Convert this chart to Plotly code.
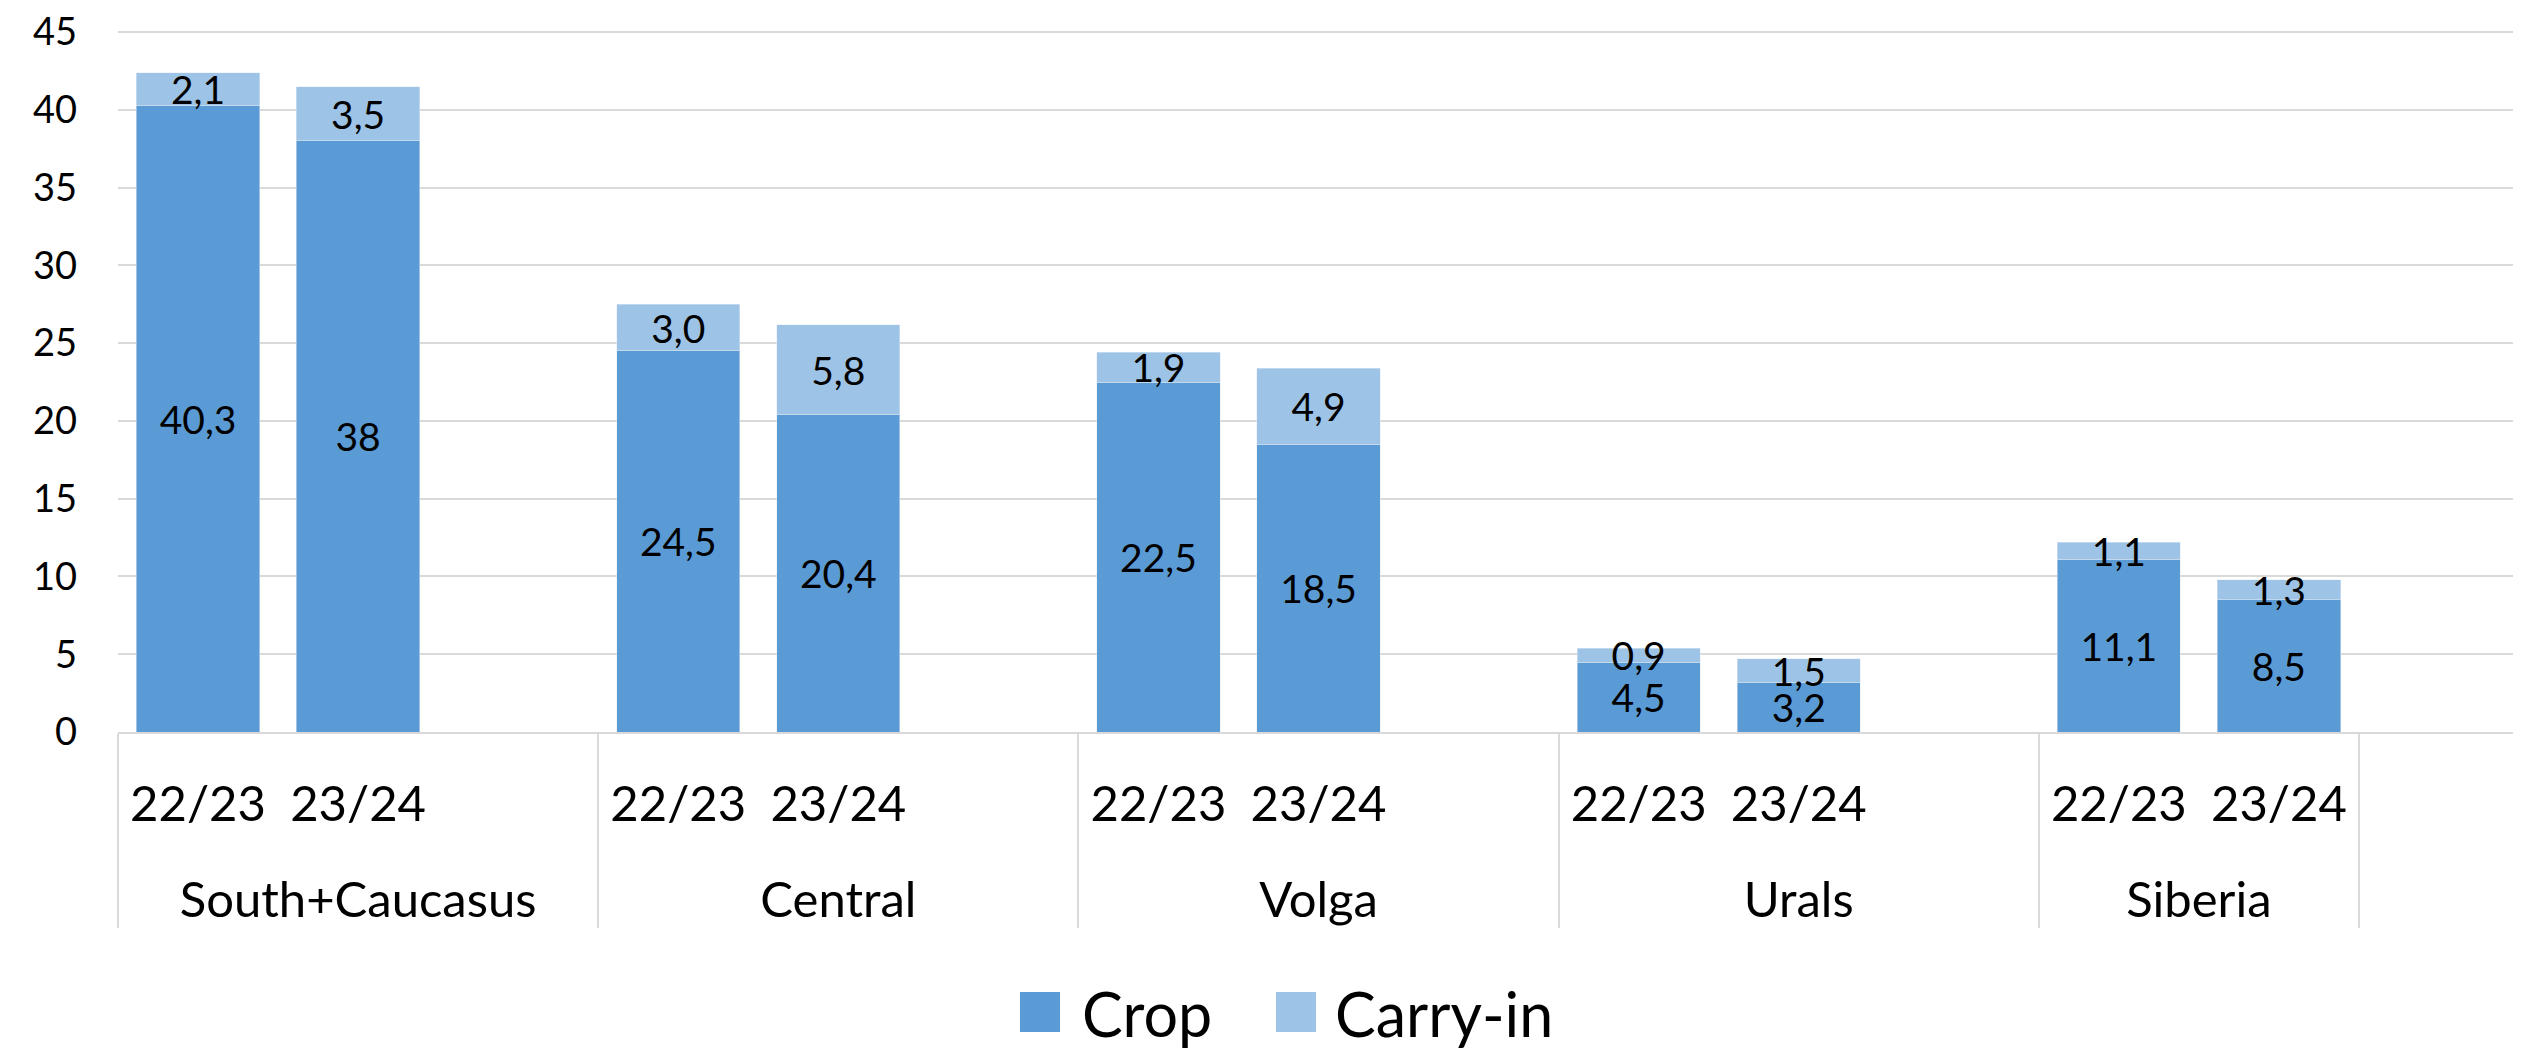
import plotly.graph_objects as go

# values (mln t)
regions = ["South+Caucasus", "Central", "Volga", "Urals", "Siberia"]
seasons = ["22/23", "23/24"]
crop = [40.3, 38.0, 24.5, 20.4, 22.5, 18.5, 4.5, 3.2, 11.1, 8.5]
carry_in = [2.1, 3.5, 3.0, 5.8, 1.9, 4.9, 0.9, 1.5, 1.1, 1.3]
crop_text = ["40,3", "38", "24,5", "20,4", "22,5", "18,5", "4,5", "3,2", "11,1", "8,5"]
carry_text = ["2,1", "3,5", "3,0", "5,8", "1,9", "4,9", "0,9", "1,5", "1,1", "1,3"]
y_ticks = [0, 5, 10, 15, 20, 25, 30, 35, 40, 45]

CROP_COL = "#5B9BD5"
CARRY_COL = "#9DC3E6"
GRID = "#D9D9D9"
FONT = "Lato"

W, H = 2521, 1052
OFF = 8  # the page body adds an 8px margin, so pull everything back by that much
# plot area wanted at x 118..2519, y 32..732 on the screen
ML, MT = 118 - OFF, 32 - OFF - 1
MR = W - (2519 - OFF)
MB = H - (732 - OFF)

# two-level x axis: two seasons per region plus an empty slot
# (the leading <br> pushes the region names down a line, as in the source)
lvl0, lvl1, yc, yk, tc, tk = [], [], [], [], [], []
i = 0
for r in regions:
    for s in seasons:
        lvl0.append("<br>" + r); lvl1.append(s)
        yc.append(crop[i]); yk.append(carry_in[i])
        tc.append(crop_text[i]); tk.append(carry_text[i])
        i += 1
    if r != regions[-1]:
        lvl0.append("<br>" + r); lvl1.append(" ")
        yc.append(None); yk.append(None); tc.append(""); tk.append("")
lvl0.append("  "); lvl1.append("  ")
yc.append(None); yk.append(None); tc.append(""); tk.append("")

fig = go.Figure()
fig.add_trace(go.Bar(x=[lvl0, lvl1], y=yc, name="Crop", marker_color=CROP_COL,
                     text=tc, textposition="inside", insidetextanchor="middle",
                     textangle=0, constraintext="none",
                     textfont=dict(family=FONT, size=39, color="black")))
fig.add_trace(go.Bar(x=[lvl0, lvl1], y=yk, name="Carry-in", marker_color=CARRY_COL,
                     text=tk, textposition="inside", insidetextanchor="middle",
                     textangle=0, constraintext="none",
                     textfont=dict(family=FONT, size=39, color="black")))

fig.update_layout(
    width=W, height=H, barmode="stack", bargap=0.23,
    margin=dict(l=ML, r=MR, t=MT, b=MB),
    paper_bgcolor="white", plot_bgcolor="white",
    font=dict(family=FONT, color="black"),
    showlegend=False,
)
# top of range a hair above 45 so the 45 tick and gridline are kept
fig.update_yaxes(range=[0, 45.07], tickvals=y_ticks, showgrid=True, gridcolor=GRID,
                 gridwidth=2, zeroline=False, showline=False, automargin=False,
                 ticklabeloverflow="allow",
                 tickfont=dict(family=FONT, size=38), ticklabelstandoff=40)
fig.update_xaxes(type="multicategory", showline=True, linecolor=GRID, linewidth=2,
                 showgrid=False, showdividers=True, dividercolor=GRID, dividerwidth=2,
                 automargin=False, tickfont=dict(family=FONT, size=49),
                 ticklabelstandoff=28)

# legend drawn by hand so the swatches can be as large as in the source
pw, ph = W - ML - MR, H - MT - MB
def px(x):
    return (x - OFF - ML) / pw
def py(y):
    return (H - MB - (y - OFF)) / ph

legend_items = [("Crop", CROP_COL, 1040, 1080), ("Carry-in", CARRY_COL, 1296, 1333)]
for label, col, sx, tx in legend_items:
    fig.add_shape(type="rect", xref="paper", yref="paper",
                  xsizemode="pixel", ysizemode="pixel",
                  xanchor=px(sx), yanchor=py(1012), x0=-20, x1=20, y0=-20, y1=20,
                  fillcolor=col, line_width=0)
    fig.add_annotation(text=label, xref="paper", yref="paper", x=px(tx), y=py(1014),
                       xanchor="left", yanchor="middle", showarrow=False,
                       font=dict(family=FONT, size=61, color="black"))

fig.write_html("out.html")
